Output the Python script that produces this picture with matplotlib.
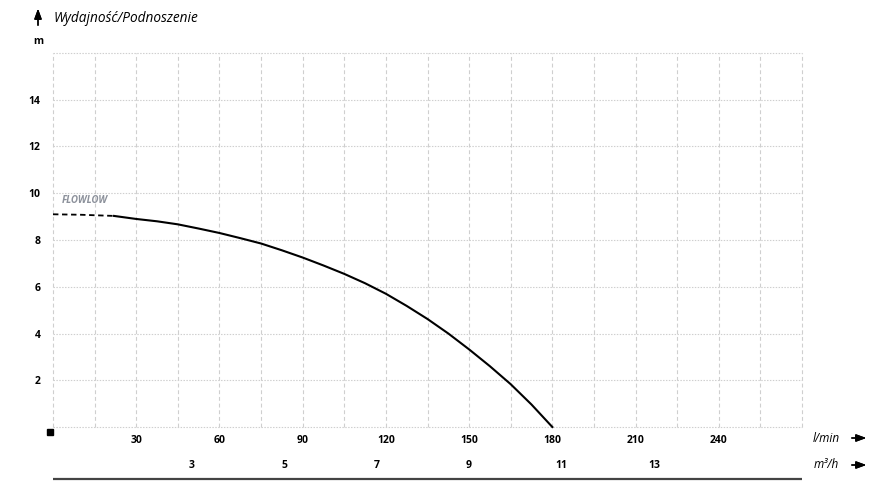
import numpy as np
import matplotlib.pyplot as plt
from matplotlib.transforms import blended_transform_factory

# --- Data ---
flow_dashed = [0, 10, 22]
head_dashed = [9.1, 9.08, 9.03]

flow_lmin = [22, 30, 37.5, 45, 52.5, 60, 67.5, 75, 82.5, 90, 97.5, 105, 112.5,
             120, 127.5, 135, 142.5, 150, 157.5, 165, 172.5, 180]
head_m = [9.03, 8.9, 8.8, 8.67, 8.49, 8.3, 8.08, 7.85, 7.56, 7.25, 6.91, 6.55, 6.15,
          5.7, 5.18, 4.62, 4.0, 3.32, 2.6, 1.83, 0.96, 0]

x_ticks = [30, 60, 90, 120, 150, 180, 210, 240]
y_ticks = [2, 4, 6, 8, 10, 12, 14]
m3h_ticks = [3, 5, 7, 9, 11, 13]

title = "Wydajność/Podnoszenie"
curve_label = "FLOWLOW"

W, H = 894, 494


def px(x, y):
    # pixel position -> figure fraction
    return x / W, 1 - y / H


plt.rcParams['font.family'] = ['Open Sans', 'DejaVu Sans']

fig = plt.figure(figsize=(W / 100, H / 100), dpi=100)
ax = fig.add_axes([53 / W, 1 - 427 / H, (802 - 53) / W, (427 - 53) / H])
ax.set_xlim(0, 270)
ax.set_ylim(0, 16)
for s in ax.spines.values():
    s.set_visible(False)

# --- Grid ---
for gx in np.arange(0, 271, 15):
    ax.axvline(gx, color='#cfcfcf', lw=0.8, ls=(0, (3.5, 2.5)), zorder=0, clip_on=False)
for gy in np.arange(0, 17, 2):
    ax.axhline(gy, color='#cfcfcf', lw=0.8, ls=(0, (1.3, 1.3)), zorder=0, clip_on=False)

# --- Curve ---
ax.plot(flow_dashed, head_dashed, color='black', lw=1.3, ls=(0, (3, 2)), clip_on=False)
ax.plot(flow_lmin, head_m, color='black', lw=1.5, clip_on=False)
ax.text(3.3, 9.45, curve_label, color='#8c919b', fontsize=7, style='italic',
        fontweight='bold', va='bottom', ha='left')

# --- Ticks ---
ax.set_xticks(x_ticks)
ax.set_xticklabels([str(v) for v in x_ticks], fontsize=7.5, fontweight='bold')
ax.set_yticks(y_ticks)
ax.set_yticklabels([str(v) for v in y_ticks], fontsize=7.5, fontweight='bold')
ax.tick_params(axis='x', length=0, pad=6)
ax.tick_params(axis='y', length=0, pad=9)

# secondary m3/h scale
trans = blended_transform_factory(ax.transData, ax.transAxes)
for v in m3h_ticks:
    ax.text(v * 1000 / 60, -0.102, str(v), transform=trans, ha='center', va='center',
            fontsize=7.5, fontweight='bold', clip_on=False)

# bottom rule
ax.plot([0, 1], [-0.139, -0.139], transform=ax.transAxes, color='#444444', lw=1.6,
        clip_on=False, solid_capstyle='butt')

# origin square
ax.plot([-0.004], [-0.013], transform=ax.transAxes, marker='s', ms=4.5, color='black',
        clip_on=False)

# --- Labels ---
fig.text(*px(54, 19), title, fontsize=9.8, style='italic', va='center', ha='left')
fig.text(*px(38, 42), "m", fontsize=7.5, fontweight='bold', va='center', ha='center')
fig.text(*px(826, 438), "l/min", fontsize=8.5, style='italic', va='center', ha='center')
fig.text(*px(826, 465), "m³/h", fontsize=8.5, style='italic', va='center', ha='center')

arrow = dict(arrowstyle='-|>,head_length=0.6,head_width=0.22', color='black', lw=1.0)
for yy in (438, 465):
    fig.add_artist(plt.annotate('', xy=px(869, yy), xytext=px(849, yy),
                                xycoords='figure fraction', textcoords='figure fraction',
                                arrowprops=arrow))
fig.add_artist(plt.annotate('', xy=px(38, 6), xytext=px(38, 28),
                            xycoords='figure fraction', textcoords='figure fraction',
                            arrowprops=arrow))

fig.savefig('out.png', dpi=100)
